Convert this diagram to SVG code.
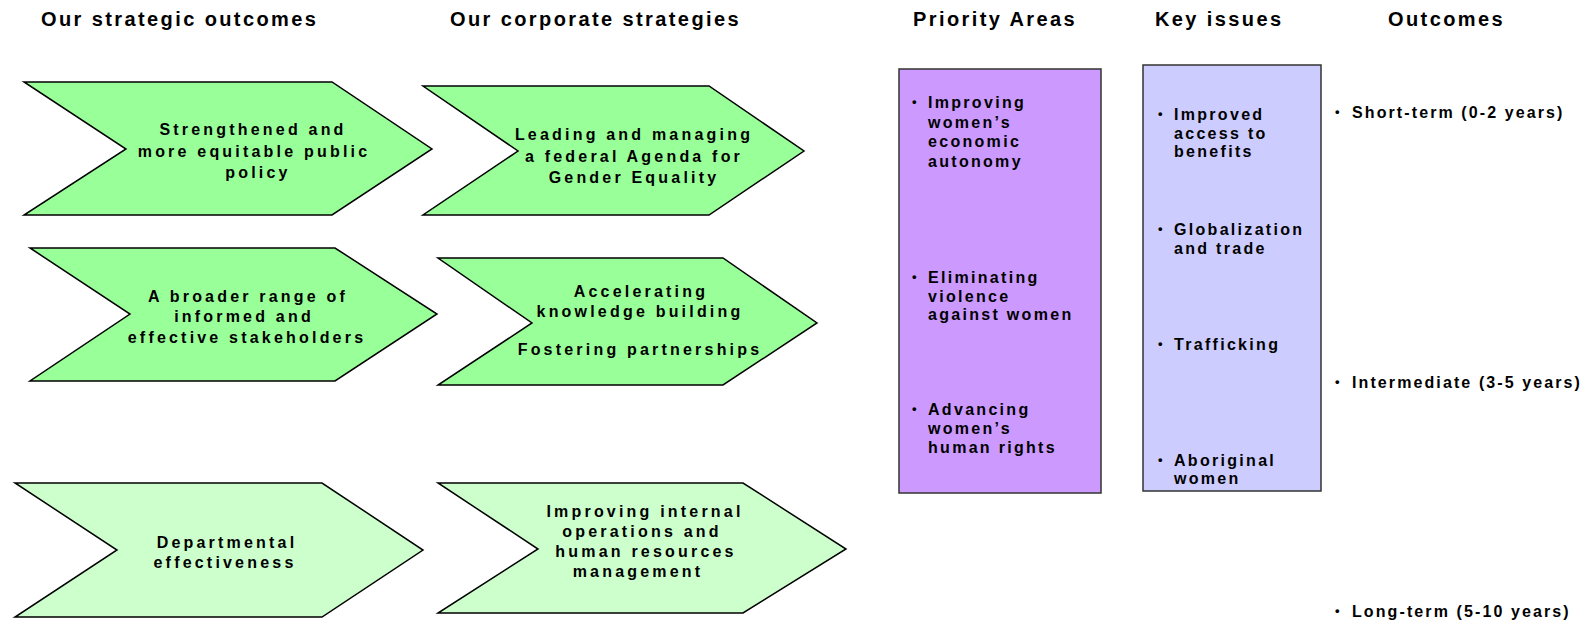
<svg xmlns="http://www.w3.org/2000/svg" width="1587" height="624" viewBox="0 0 1587 624">
<style>
text{font-family:"Liberation Sans",Arial,sans-serif;font-weight:bold;fill:#000}
.h{font-size:20px;letter-spacing:2.4px}
.c{font-size:16px;letter-spacing:3.2px;text-anchor:middle}
.b{font-size:16px;letter-spacing:2.3px}
.o{font-size:16px;letter-spacing:2.1px}
.dot{font-size:13px;letter-spacing:0}
.chev{stroke:#000;stroke-width:1.5;stroke-linejoin:miter}
.g1{fill:#99ff99}
.g2{fill:#ccffcc}
</style>
<g id="headers">
<text class="h" x="41" y="26">Our strategic outcomes</text>
<text class="h" x="450" y="26">Our corporate strategies</text>
<text class="h" x="913" y="26">Priority Areas</text>
<text class="h" x="1155" y="26">Key issues</text>
<text class="h" x="1388" y="26">Outcomes</text>
</g>
<g id="outcome1">
<polygon class="chev g1" points="24,82 332,82 432,149 332,215 24,215 126,149"/>
<text class="c" y="135"><tspan x="253">Strengthened and</tspan><tspan x="254" y="157">more equitable public</tspan><tspan x="258" y="178">policy</tspan></text>
</g>
<g id="strategy1">
<polygon class="chev g1" points="423,86 709,86 804,151 709,215 423,215 518,151"/>
<text class="c" y="140"><tspan x="634">Leading and managing</tspan><tspan x="634" y="162">a federal Agenda for</tspan><tspan x="634" y="183">Gender Equality</tspan></text>
</g>
<g id="outcome2">
<polygon class="chev g1" points="30,248 335,248 437,314 335,381 30,381 130,314"/>
<text class="c" y="302"><tspan x="248">A broader range of</tspan><tspan x="244" y="322">informed and</tspan><tspan x="247" y="343">effective stakeholders</tspan></text>
</g>
<g id="strategy2">
<polygon class="chev g1" points="438,258 723,258 817,323 723,385 438,385 532,323"/>
<text class="c" y="297"><tspan x="641">Accelerating</tspan><tspan x="640" y="317">knowledge building</tspan><tspan x="640" y="355">Fostering partnerships</tspan></text>
</g>
<g id="outcome3">
<polygon class="chev g2" points="15,483 322,483 423,550 322,617 15,617 117,550"/>
<text class="c" y="548"><tspan x="227">Departmental</tspan><tspan x="225" y="568">effectiveness</tspan></text>
</g>
<g id="strategy3">
<polygon class="chev g2" points="438,483 743,483 846,549 743,613 438,613 538,549"/>
<text class="c" y="517"><tspan x="645">Improving internal</tspan><tspan x="642" y="537">operations and</tspan><tspan x="646" y="557">human resources</tspan><tspan x="638" y="577">management</tspan></text>
</g>
<g id="priority-areas">
<rect x="899" y="69" width="202" height="424" fill="#cc99ff" stroke="#333" stroke-width="1.5"/>
<text class="dot" x="912" y="106">•</text>
<text class="b" x="928" y="108">Improving<tspan x="928" y="128">women’s</tspan><tspan x="928" y="147">economic</tspan><tspan x="928" y="167">autonomy</tspan></text>
<text class="dot" x="912" y="281">•</text>
<text class="b" x="928" y="283">Eliminating<tspan x="928" y="301.5">violence</tspan><tspan x="928" y="320">against women</tspan></text>
<text class="dot" x="912" y="413">•</text>
<text class="b" x="928" y="415">Advancing<tspan x="928" y="434">women’s</tspan><tspan x="928" y="453">human rights</tspan></text>
</g>
<g id="key-issues">
<rect x="1143" y="65" width="178" height="426" fill="#ccccff" stroke="#333" stroke-width="1.5"/>
<text class="dot" x="1158" y="118">•</text>
<text class="b" x="1174" y="120">Improved<tspan x="1174" y="139">access to</tspan><tspan x="1174" y="157">benefits</tspan></text>
<text class="dot" x="1158" y="233">•</text>
<text class="b" x="1174" y="235">Globalization<tspan x="1174" y="254">and trade</tspan></text>
<text class="dot" x="1158" y="348">•</text>
<text class="b" x="1174" y="350">Trafficking</text>
<text class="dot" x="1158" y="464">•</text>
<text class="b" x="1174" y="466">Aboriginal<tspan x="1174" y="484">women</tspan></text>
</g>
<g id="outcomes">
<text class="dot" x="1335" y="116">•</text>
<text class="o" x="1352" y="118">Short-term (0-2 years)</text>
<text class="dot" x="1335" y="386">•</text>
<text class="o" x="1352" y="388">Intermediate (3-5 years)</text>
<text class="dot" x="1335" y="615">•</text>
<text class="o" x="1352" y="617">Long-term (5-10 years)</text>
</g>
<g id="connectors"></g>
</svg>
